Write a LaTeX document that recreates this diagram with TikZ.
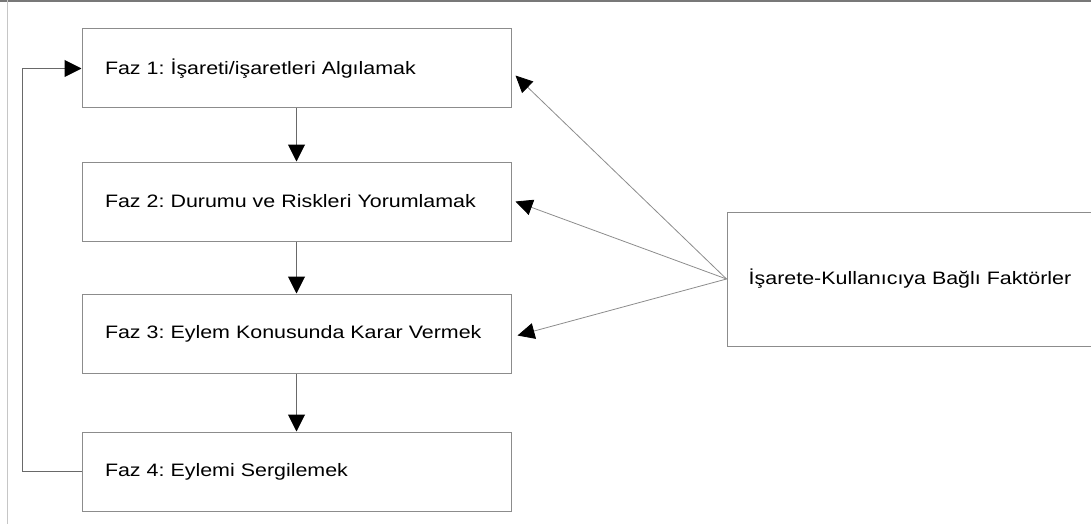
\documentclass[tikz,border=0pt]{standalone}
\usepackage{fontspec}
\setmainfont{Liberation Sans}[FakeStretch=1.19]
\usepackage{xcolor}
\usetikzlibrary{arrows.meta}
\definecolor{boxgray}{RGB}{140,140,140}
\definecolor{linegray}{RGB}{105,105,105}
\definecolor{framegray}{RGB}{120,120,120}
\frenchspacing

\tikzset{
    faz/.style={draw=boxgray, line width=1pt, text width=383pt, inner xsep=23pt,
        minimum height=79pt, align=left, font=\fontsize{18pt}{21pt}\selectfont},
    factor/.style={draw=boxgray, line width=1pt, minimum width=366pt,
        minimum height=134pt, font=\fontsize{18pt}{21pt}\selectfont},
    flow/.style={draw=linegray, line width=1pt, -{Triangle[length=17pt,width=17pt,color=black]}},
    influence/.style={draw=boxgray, line width=0.8pt, -{Triangle[length=17pt,width=16pt,color=black]}}
}

\begin{document}
\begin{tikzpicture}[x=1pt, y=-1pt]
    \useasboundingbox (0,0) rectangle (1091,524);
    % frame of the scanned page
    \draw[framegray, line width=2.5pt] (0,1) -- (1091,1);
    \draw[gray!45, line width=1pt] (7.5,0) -- (7.5,524);

    \node[faz] (F1) at (296.5,68.5) {Faz 1: İşareti/işaretleri Algılamak};
    \node[faz] (F2) at (296.5,201.5) {Faz 2: Durumu ve Riskleri Yorumlamak};
    \node[faz] (F3) at (296.5,333.5) {Faz 3: Eylem Konusunda Karar Vermek};
    \node[faz] (F4) at (296.5,471.5) {Faz 4: Eylemi Sergilemek};
    \node[factor] (K) at (910,279) {İşarete-Kullanıcıya Bağlı Faktörler};

    \draw[flow] (F1.south) -- (F2.north);
    \draw[flow] (F2.south) -- (F3.north);
    \draw[flow] (F3.south) -- (F4.north);
    \draw[flow] (F4.west) -- ++(-59,0) |- (F1.west);

    \draw[influence] (K.west) -- ([xshift=4pt,yshift=-7pt]F1.east);
    \draw[influence] (K.west) -- ([xshift=4pt]F2.east);
    \draw[influence] (K.west) -- ([xshift=6pt,yshift=-2pt]F3.east);
\end{tikzpicture}
\end{document}
